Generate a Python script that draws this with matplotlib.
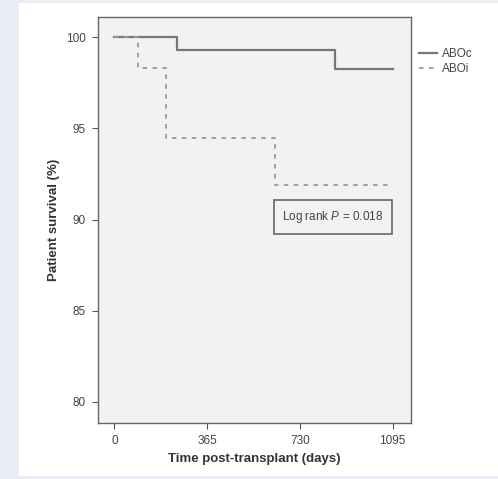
import matplotlib
matplotlib.use("Agg")
import matplotlib.pyplot as plt
from matplotlib.patches import Rectangle

plt.rcParams["font.family"] = ["Liberation Sans", "DejaVu Sans"]
plt.rcParams["mathtext.fontset"] = "custom"
plt.rcParams["mathtext.it"] = "Liberation Sans:italic"
plt.rcParams["mathtext.rm"] = "Liberation Sans"

# Kaplan-Meier step data (days, survival %)
aboc_days = [0, 245, 868, 1095]
aboc_surv = [100.0, 99.30, 98.24, 98.24]
aboi_days = [0, 92, 202, 632, 1095]
aboi_surv = [100.0, 98.3, 94.48, 91.88, 91.88]

x_ticks = [0, 365, 730, 1095]
y_ticks = [80, 85, 90, 95, 100]
series_names = ["ABOc", "ABOi"]

fig = plt.figure(figsize=(4.98, 4.79), dpi=100)
fig.patch.set_facecolor("white")
# light bluish page margins
fig.patches.append(Rectangle((0, 0), 19/498, 1, transform=fig.transFigure,
                             facecolor="#e8edf5", edgecolor="none", zorder=-10))
fig.patches.append(Rectangle((0, 1 - 3/479), 1, 3/479, transform=fig.transFigure,
                             facecolor="#e8edf5", edgecolor="none", zorder=-10))
fig.patches.append(Rectangle((0, 0), 1, 3/479, transform=fig.transFigure,
                             facecolor="#e8edf5", edgecolor="none", zorder=-10))

ax = fig.add_axes([98.3/498, 1 - 422.7/479, (410.7 - 98.3)/498, (422.7 - 16.7)/479])
ax.set_facecolor("#f2f2f2")

ax.step(aboc_days, aboc_surv, where="post", color="#777777", lw=1.6,
        label=series_names[0])
ax.step(aboi_days, aboi_surv, where="post", color="#9a9a9a", lw=1.3,
        linestyle=(0, (2.5, 3)), label=series_names[1])

ax.set_xlim(-63, 1166)
ax.set_ylim(78.85, 101.13)
ax.set_xticks(x_ticks)
ax.set_yticks(y_ticks)
ax.tick_params(direction="out", length=4, width=0.8, color="#555555",
               labelsize=8.5, labelcolor="#444444", pad=5)
for s in ax.spines.values():
    s.set_color("#666666")
    s.set_linewidth(1.0)

ax.set_xlabel("Time post-transplant (days)", fontsize=9.5, fontweight="bold",
              color="#333333", labelpad=4)
ax.set_ylabel("Patient survival (%)", fontsize=9.5, fontweight="bold",
              color="#333333", labelpad=4)

ax.text(860, 90.13, r"Log rank $\it{P}$ = 0.018", fontsize=8.5, color="#444444",
        ha="center", va="center",
        bbox=dict(boxstyle="square,pad=0.75", facecolor="#f2f2f2",
                  edgecolor="#666666", linewidth=1.2))

leg = ax.legend(loc="upper left", bbox_to_anchor=(1.01, 0.935), frameon=False,
                fontsize=8.5, handlelength=1.6, handletextpad=0.4,
                labelspacing=0.25, borderaxespad=0)
for t in leg.get_texts():
    t.set_color("#444444")

fig.savefig("out.png", dpi=100)
